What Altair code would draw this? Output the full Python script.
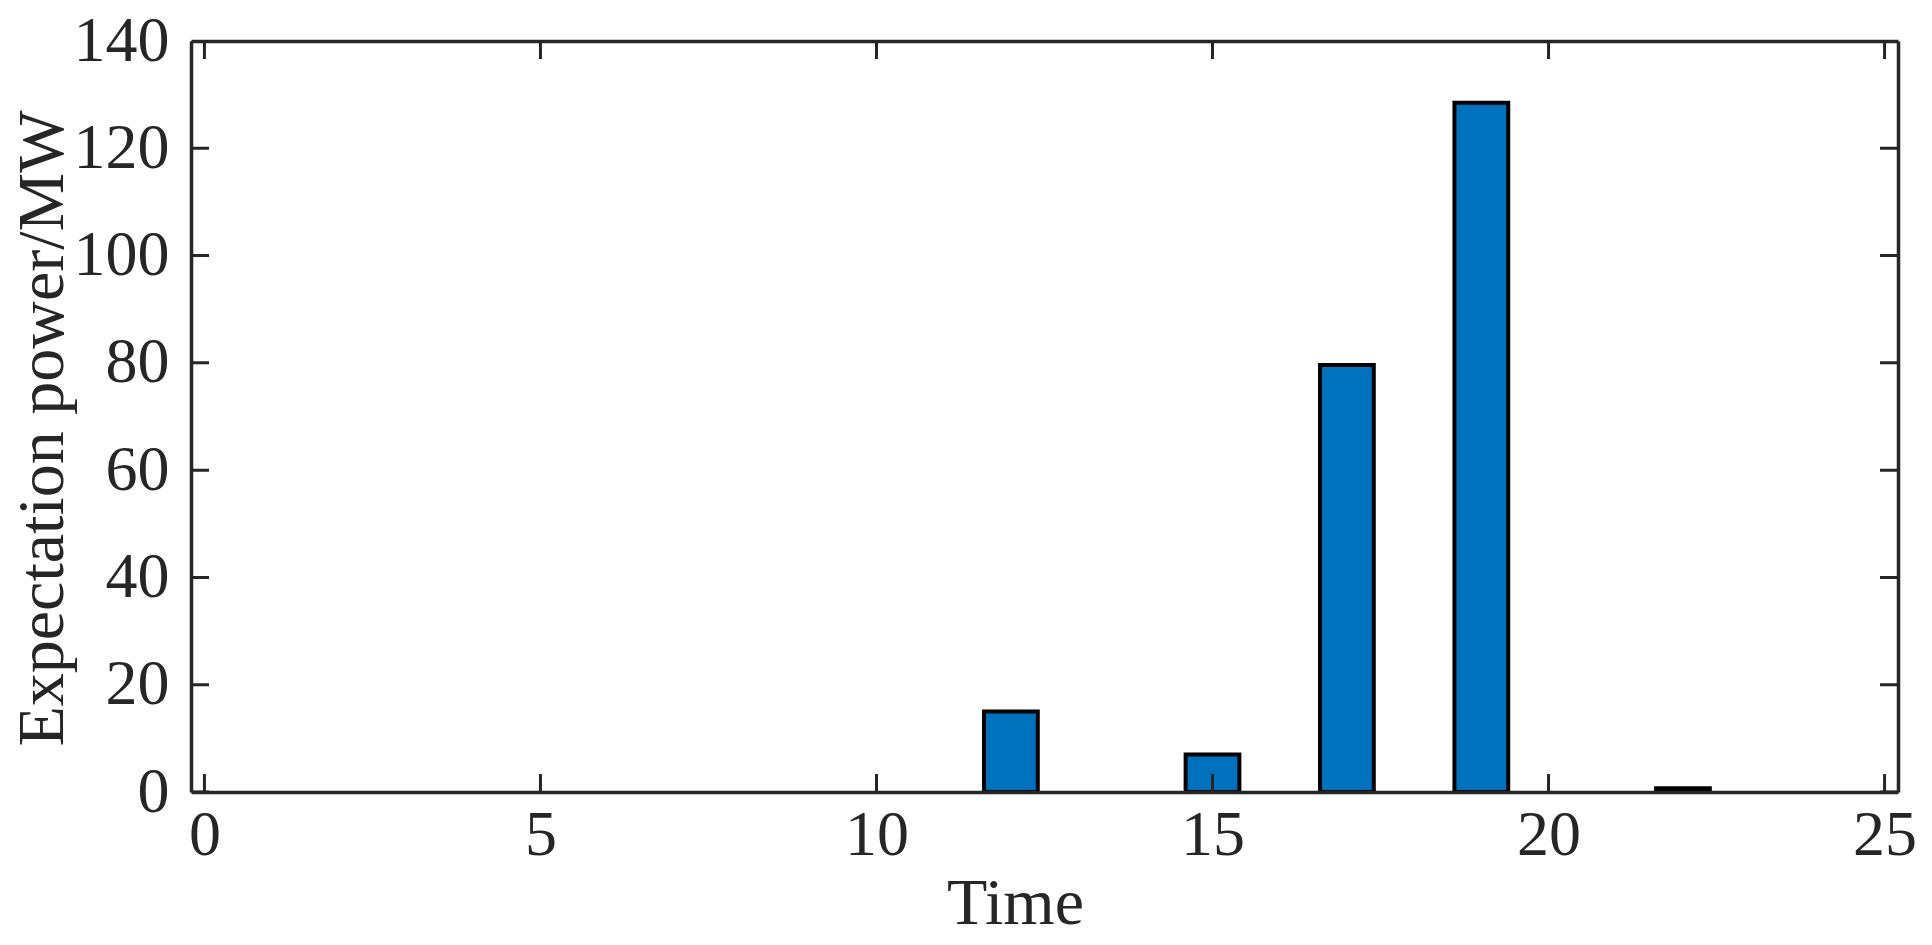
import altair as alt
import pandas as pd

# Data
times = list(range(1, 25))
power = [0, 0, 0, 0, 0, 0, 0, 0, 0, 0, 0, 15.0, 0, 0, 7.0, 0, 79.6, 0, 128.5, 0, 0, 0.7, 0, 0]
x_ticks = [0, 5, 10, 15, 20, 25]
y_ticks = [0, 20, 40, 60, 80, 100, 120, 140]
x_domain = [-0.2, 25.2]
y_domain = [0, 140]
bar_width = 0.8

FONT = "Liberation Serif"
INK = "#262626"

bars_df = pd.DataFrame({"time": times, "power": power})
xt_df = pd.DataFrame([{"x": t, "y": yy} for t in x_ticks for yy in y_domain])
yt_df = pd.DataFrame([{"x": xx, "y": t} for t in y_ticks for xx in x_domain])

xscale = alt.Scale(domain=x_domain, nice=False, zero=False)
yscale = alt.Scale(domain=y_domain, nice=False, zero=False)

xaxis = alt.Axis(values=x_ticks, format="d", ticks=False, tickSize=0, grid=False,
                 domainColor=INK, domainWidth=3.5, zindex=1,
                 labelFont=FONT, labelFontSize=64, labelColor=INK, labelPadding=11,
                 labelFlush=False, labelOverlap=False,
                 title="Time", titleFont=FONT, titleFontSize=66, titleFontWeight="normal",
                 titleColor=INK, titleBaseline="alphabetic", titleX=824, titleY=131,
                 titleAnchor="start", titleAlign="center")
yaxis = alt.Axis(values=y_ticks, format="d", ticks=False, tickSize=0, grid=False,
                 domainColor=INK, domainWidth=3.5, zindex=1,
                 labelFont=FONT, labelFontSize=64, labelColor=INK, labelPadding=22,
                 labelFlush=False, labelOverlap=False,
                 title="Expectation power/MW", titleFont=FONT, titleFontSize=66,
                 titleFontWeight="normal", titleColor=INK, titleBaseline="alphabetic",
                 titleX=-129, titleY=387, titleAngle=-90, titleAlign="center")
top_axis = alt.Axis(orient="top", labels=False, ticks=False, tickSize=0, grid=False,
                    domainColor=INK, domainWidth=3.5, zindex=1, title=None)
right_axis = alt.Axis(orient="right", labels=False, ticks=False, tickSize=0, grid=False,
                      domainColor=INK, domainWidth=3.5, zindex=1, title=None)

bars = alt.Chart(bars_df).transform_filter(
    alt.datum.power > 0
).transform_calculate(
    x0=f"datum.time - {bar_width/2}", x1=f"datum.time + {bar_width/2}", base="0"
).mark_bar(color="#0072BD", stroke="black", strokeWidth=4).encode(
    x=alt.X("x0:Q", scale=xscale, axis=xaxis),
    x2="x1:Q",
    y=alt.Y("base:Q", scale=yscale, axis=yaxis),
    y2="power:Q",
)

xticks_mark = alt.Chart(xt_df).mark_tick(
    orient="vertical", size=36, thickness=3, color=INK, clip=True, opacity=1
).encode(
    x=alt.X("x:Q", scale=xscale, axis=top_axis),
    y=alt.Y("y:Q", scale=yscale, axis=right_axis),
)

yticks_mark = alt.Chart(yt_df).mark_tick(
    orient="horizontal", size=36, thickness=3, color=INK, clip=True, opacity=1
).encode(
    x=alt.X("x:Q", scale=xscale, axis=None),
    y=alt.Y("y:Q", scale=yscale, axis=None),
)

chart = alt.layer(bars, xticks_mark, yticks_mark).resolve_axis(
    x="independent", y="independent"
).properties(
    width=1707, height=751,
    autosize=alt.AutoSizeParams(type="none"),
    padding={"left": 183, "top": 33, "right": 25, "bottom": 144},
).configure_view(
    strokeWidth=0
).configure(background="white")

chart.save("out.html", embed_options={"renderer": "svg", "actions": False})
